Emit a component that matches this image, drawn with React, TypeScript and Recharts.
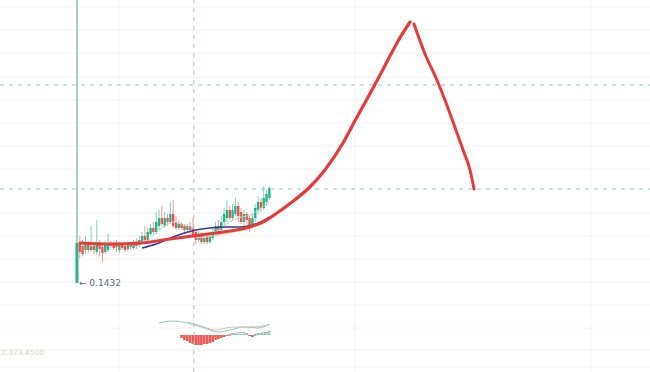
import {
  ComposedChart,
  Bar,
  Line,
  XAxis,
  YAxis,
  CartesianGrid,
  ReferenceLine,
  ReferenceDot
} from 'recharts';

// candles, one per bar index (index 0 is the long spike at the left)
const opens = [
  0.1432, 0.1822, 0.1802, 0.1762, 0.1832, 0.1762, 0.1802, 0.1742, 0.1822, 0.1792,
  0.1742, 0.1762, 0.1832, 0.1822, 0.1812, 0.1762, 0.1822, 0.1802, 0.1772, 0.1822,
  0.1782, 0.1832, 0.1812, 0.1852, 0.1902, 0.1862, 0.1922, 0.1982, 0.1942, 0.2002,
  0.2082, 0.2002, 0.2082, 0.2042, 0.2122, 0.2042, 0.1982, 0.2022, 0.2002, 0.1962,
  0.2002, 0.1982, 0.1942, 0.1862, 0.1902, 0.1842, 0.1902, 0.1842, 0.1882, 0.1942,
  0.2002, 0.1962, 0.2042, 0.2082, 0.2162, 0.2082, 0.2122, 0.2202, 0.2142, 0.2042,
  0.2122, 0.2082, 0.2022, 0.2082, 0.2162, 0.2242, 0.2182, 0.2242, 0.2282
];
const closes = [
  0.1832, 0.1742, 0.1722, 0.1822, 0.1762, 0.1802, 0.1762, 0.1822, 0.1772, 0.1732,
  0.1822, 0.1832, 0.1802, 0.1782, 0.1792, 0.1812, 0.1782, 0.1762, 0.1812, 0.1792,
  0.1832, 0.1802, 0.1862, 0.1902, 0.1862, 0.1942, 0.1982, 0.1942, 0.2042, 0.2082,
  0.2022, 0.2082, 0.2042, 0.2122, 0.2002, 0.1982, 0.2022, 0.1982, 0.1962, 0.2002,
  0.1962, 0.1902, 0.1862, 0.1902, 0.1842, 0.1882, 0.1842, 0.1902, 0.1942, 0.2002,
  0.1962, 0.2042, 0.2122, 0.2162, 0.2082, 0.2162, 0.2202, 0.2102, 0.2042, 0.2122,
  0.2062, 0.2002, 0.2082, 0.2182, 0.2242, 0.2182, 0.2282, 0.2322, 0.2382
];
const highs = [
  0.4262, 0.1902, 0.1862, 0.1902, 0.1852, 0.2002, 0.1832, 0.2062, 0.1862, 0.1812,
  0.1852, 0.1922, 0.1852, 0.1842, 0.1862, 0.1832, 0.1842, 0.1832, 0.1822, 0.1842,
  0.1862, 0.1882, 0.1902, 0.1942, 0.2002, 0.1982, 0.2022, 0.2042, 0.2142, 0.2162,
  0.2202, 0.2142, 0.2122, 0.2242, 0.2262, 0.2102, 0.2062, 0.2042, 0.2022, 0.2022,
  0.2042, 0.2082, 0.1962, 0.1942, 0.1922, 0.1922, 0.1922, 0.1942, 0.1982, 0.2042,
  0.2062, 0.2102, 0.2182, 0.2262, 0.2202, 0.2222, 0.2282, 0.2242, 0.2182, 0.2162,
  0.2142, 0.2102, 0.2122, 0.2222, 0.2302, 0.2282, 0.2402, 0.2362, 0.2402
];
const lows = [
  0.1432, 0.1682, 0.1702, 0.1722, 0.1732, 0.1742, 0.1722, 0.1712, 0.1702, 0.1642,
  0.1722, 0.1742, 0.1782, 0.1762, 0.1742, 0.1732, 0.1762, 0.1742, 0.1752, 0.1762,
  0.1762, 0.1772, 0.1792, 0.1822, 0.1842, 0.1842, 0.1902, 0.1922, 0.1922, 0.1962,
  0.2002, 0.1982, 0.2002, 0.2022, 0.1982, 0.1962, 0.1962, 0.1962, 0.1932, 0.1942,
  0.1922, 0.1882, 0.1822, 0.1842, 0.1822, 0.1822, 0.1822, 0.1822, 0.1862, 0.1922,
  0.1942, 0.1942, 0.2002, 0.2042, 0.2062, 0.2062, 0.2102, 0.2042, 0.2022, 0.2002,
  0.1982, 0.1942, 0.1982, 0.2042, 0.2122, 0.2142, 0.2162, 0.2202, 0.2262
];

// MACD histogram per bar (empty before index 37)
const macdHist = [
  null, null, null, null, null, null, null, null, null, null,
  null, null, null, null, null, null, null, null, null, null,
  null, null, null, null, null, null, null, null, null, null,
  null, null, null, null, null, null, null,
  -3, -5, -6, -8, -9, -10, -10, -10, -9, -9, -8, -7, -5, -4, -3, -2,
  -1, 1, 2, 2, 3, 3, 3, 2, -1, -2, 1, 2, 2, 3, 3, 4
];

// moving averages, bar index -> price
const maFastAt = [24, 26, 28, 30, 32, 34, 36, 38, 40, 42, 44, 46, 48, 50, 52, 54, 56, 58, 60, 62, 64, 66, 68];
const maFast = [
  0.1822, 0.1882, 0.1932, 0.1982, 0.2022, 0.2042, 0.2032, 0.2012, 0.1992, 0.1962,
  0.1932, 0.1922, 0.1932, 0.1962, 0.2002, 0.2042, 0.2072, 0.2092, 0.2102, 0.2122,
  0.2162, 0.2202, 0.2242
];
const maMidAt = [23, 28, 33, 38, 42, 47, 53, 58, 62, 65, 68];
const maMid = [0.1782, 0.1822, 0.1882, 0.1932, 0.1962, 0.1982, 0.1992, 0.1992, 0.2012, 0.2042, 0.2092];
const maSlowAt = [42, 48, 54, 60, 66];
const maSlow = [0.1882, 0.1902, 0.1932, 0.1982, 0.2052];

// hand drawn projection
const riseAt = [1.1, 11.7, 22.3, 32.9, 43.5, 54.1, 61.1, 66.4, 71.7, 76.0, 82.3, 87.6, 94.0, 98.2, 102.5, 107.1, 110.6, 114.1, 117.7];
const rise = [
  0.1832, 0.1822, 0.1832, 0.1872, 0.1912, 0.1952, 0.1992, 0.2052, 0.2152, 0.2242,
  0.2392, 0.2562, 0.2832, 0.3052, 0.3272, 0.3512, 0.3702, 0.3882, 0.4042
];
const fallAt = [119.1, 123.0, 127.2, 130.7, 133.9, 136.7, 138.9, 140.3];
const fall = [0.4022, 0.3722, 0.3462, 0.3212, 0.2962, 0.2742, 0.2562, 0.2372];

// MACD lines
const macdAt = [29, 34, 39, 44, 50, 54, 59, 64, 68];
const macd = [12, 14, 12, 8, 3, 5, 8, 7, 11];
const signalAt = [39, 43, 49, 55, 61, 68];
const signal = [13, 10, 5, 8, 8, 10];

const levels = [0.3412, 0.2372];
const crossAt = 41.3;
const lowLabel = '← 0.1432';
const sideLabel = '2,373.4500';

const UP = '#26b48a';
const DOWN = '#ef5350';

const rows = opens.map((o, i) => ({
  i,
  open: o,
  close: closes[i],
  high: highs[i],
  low: lows[i],
  range: [lows[i], highs[i]],
  hist: macdHist[i]
}));

const pts = (xs: number[], vs: number[]) => xs.map((x, k) => ({ i: x, v: vs[k] }));

const Candle = (props: any) => {
  const { x, y, width, height, payload } = props;
  if (payload == null || payload.high == null) return null;
  const top = Math.min(y, y + height);
  const span = Math.abs(height);
  const unit = payload.high === payload.low ? 0 : span / (payload.high - payload.low);
  const cx = x + width / 2;
  const oy = top + (payload.high - payload.open) * unit;
  const cy = top + (payload.high - payload.close) * unit;
  const color = payload.close >= payload.open ? UP : DOWN;
  const first = payload.i === 0;
  const bw = first ? 3 : 2.4;
  return (
    <g>
      <line
        x1={cx}
        x2={cx}
        y1={top}
        y2={top + span}
        stroke={first ? '#9fd3c5' : color}
        strokeOpacity={first ? 1 : 0.6}
        strokeWidth={first ? 2 : 1}
      />
      <rect x={cx - bw / 2} y={Math.min(oy, cy)} width={bw} height={Math.max(1, Math.abs(oy - cy))} fill={color} />
    </g>
  );
};

const HistBar = (props: any) => {
  const { x, y, width, height, payload } = props;
  if (payload == null || payload.hist == null) return null;
  const top = Math.min(y, y + height);
  const h = Math.max(1, Math.abs(height));
  if (payload.hist < 0) return <rect x={x} y={top} width={width} height={h} fill="#ec5a55" />;
  return (
    <rect x={x + 0.5} y={top + 0.5} width={Math.max(1, width - 1)} height={Math.max(1, h - 1)} fill="#ffffff" stroke="#93bfae" strokeWidth={1} />
  );
};

const LowText = (props: any) => {
  const vb = props.viewBox || {};
  return (
    <text x={(vb.x || 0) + 3} y={(vb.y || 0) + 4} fontSize={9} fill="#5a6a8e" fontFamily="DejaVu Sans, sans-serif">
      {lowLabel}
    </text>
  );
};

const SideText = (props: any) => {
  const vb = props.viewBox || {};
  return (
    <text x={1} y={(vb.y || 0) + 4} fontSize={7.5} fill="#d8d2bd" fontFamily="DejaVu Sans, sans-serif">
      {sideLabel}
    </text>
  );
};

const xDomain = [-27.2, 202.5];

export default function App() {
  return (
    <div style={{ position: 'absolute', left: 0, top: 0, width: 650, height: 372, background: '#fff' }}>
      <ComposedChart width={650} height={372} data={rows} margin={{ top: 0, right: 0, bottom: 0, left: 0 }}>
        <CartesianGrid
          stroke="#f2f2f2"
          horizontalPoints={[7, 30, 53, 77, 100, 123, 146, 169, 213, 236, 259, 282, 305, 328, 350, 367]}
          verticalPoints={[119, 355, 591]}
        />
        <XAxis dataKey="i" type="number" domain={xDomain} allowDataOverflow hide />
        <XAxis xAxisId="m" dataKey="i" type="number" domain={xDomain} allowDataOverflow hide />
        <YAxis type="number" domain={[0.0542, 0.4262]} allowDataOverflow hide />
        <YAxis yAxisId="m" type="number" domain={[-37, 335]} allowDataOverflow hide />

        {levels.map((lv) => (
          <ReferenceLine key={lv} y={lv} stroke="#98cbbf" strokeDasharray="4 5" />
        ))}
        <ReferenceLine x={crossAt} stroke="#98cbbf" strokeDasharray="4 5" />

        <Bar dataKey="range" barSize={3} shape={<Candle />} activeBar={false} isAnimationActive={false} />
        <Bar dataKey="hist" xAxisId="m" yAxisId="m" barSize={2.6} shape={<HistBar />} activeBar={false} isAnimationActive={false} />

        <Line data={pts(maFastAt, maFast)} dataKey="v" type="monotone" stroke="#b9d8c8" strokeWidth={1} dot={false} activeDot={false} isAnimationActive={false} />
        <Line data={pts(maSlowAt, maSlow)} dataKey="v" type="monotone" stroke="#d6d0b8" strokeWidth={1} dot={false} activeDot={false} isAnimationActive={false} />
        <Line data={pts(maMidAt, maMid)} dataKey="v" type="monotone" stroke="#2f3b94" strokeWidth={1.6} dot={false} activeDot={false} isAnimationActive={false} />

        <Line data={pts(riseAt, rise)} dataKey="v" type="monotone" stroke="#e53b3b" strokeWidth={3.2} strokeLinecap="round" dot={false} activeDot={false} isAnimationActive={false} />
        <Line data={pts(fallAt, fall)} dataKey="v" type="monotone" stroke="#e53b3b" strokeWidth={3} strokeLinecap="round" dot={false} activeDot={false} isAnimationActive={false} />

        <Line xAxisId="m" yAxisId="m" data={pts(macdAt, macd)} dataKey="v" type="monotone" stroke="#8cc9b6" strokeWidth={1} dot={false} activeDot={false} isAnimationActive={false} />
        <Line xAxisId="m" yAxisId="m" data={pts(signalAt, signal)} dataKey="v" type="monotone" stroke="#c9c3b0" strokeWidth={1} dot={false} activeDot={false} isAnimationActive={false} />

        <ReferenceDot x={0} y={0.1432} r={1} fill="none" stroke="none" label={<LowText />} />
        <ReferenceDot xAxisId="m" yAxisId="m" x={-27.2} y={-17} r={1} fill="none" stroke="none" label={<SideText />} ifOverflow="visible" />
      </ComposedChart>
    </div>
  );
}
